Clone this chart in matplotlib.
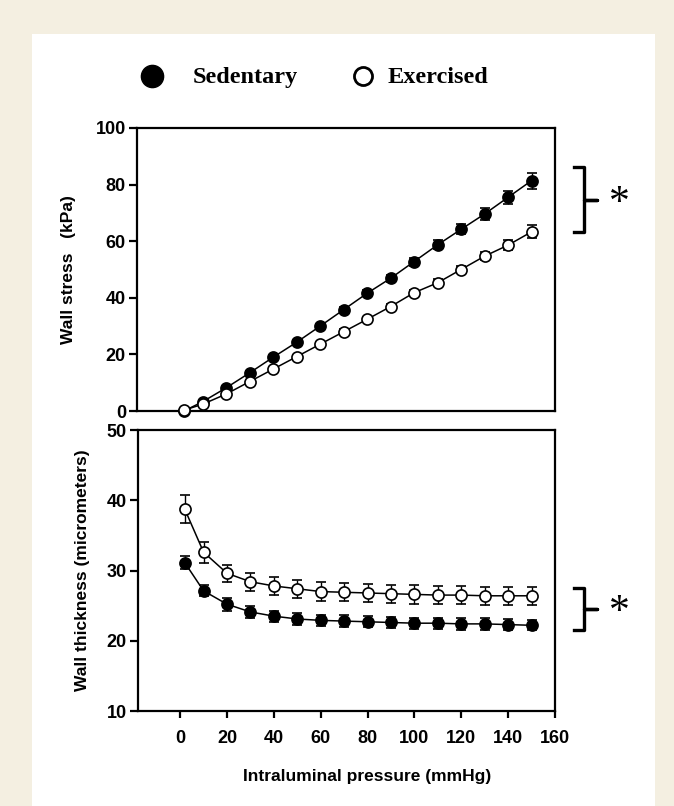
import matplotlib
matplotlib.use("Agg")
import matplotlib.pyplot as plt
from matplotlib.lines import Line2D
from matplotlib.patches import Rectangle

# pressure steps (mmHg)
pressure = [2, 10, 20, 30, 40, 50, 60, 70, 80, 90, 100, 110, 120, 130, 140, 150]

# wall stress (kPa)
stress_sed = [0.0, 3.3, 8.2, 13.5, 19.0, 24.3, 30.0, 35.8, 41.6, 46.9, 52.8, 58.7, 64.2, 69.6, 75.5, 81.4]
stress_sed_err = [0.3, 0.4, 0.5, 0.6, 0.7, 0.8, 0.9, 1.0, 1.1, 1.2, 1.4, 1.6, 1.8, 2.0, 2.4, 2.8]
stress_ex = [0.3, 2.4, 6.0, 10.4, 14.8, 19.2, 23.6, 28.0, 32.4, 36.9, 41.8, 45.3, 50.0, 54.7, 58.6, 63.3]
stress_ex_err = [0.3, 0.3, 0.4, 0.5, 0.6, 0.6, 0.7, 0.8, 0.9, 1.0, 1.1, 1.2, 1.3, 1.5, 1.7, 2.3]

# wall thickness (micrometers)
thick_sed = [31.1, 27.1, 25.2, 24.1, 23.5, 23.1, 22.9, 22.8, 22.7, 22.6, 22.5, 22.5, 22.4, 22.4, 22.3, 22.2]
thick_sed_err = [0.9, 0.8, 0.9, 0.8, 0.8, 0.8, 0.8, 0.8, 0.8, 0.8, 0.8, 0.8, 0.8, 0.8, 0.8, 0.7]
thick_ex = [38.7, 32.6, 29.6, 28.4, 27.8, 27.4, 27.0, 26.9, 26.8, 26.7, 26.6, 26.5, 26.5, 26.4, 26.4, 26.4]
thick_ex_err = [2.0, 1.5, 1.2, 1.3, 1.3, 1.3, 1.3, 1.3, 1.3, 1.3, 1.3, 1.3, 1.3, 1.3, 1.3, 1.3]

W, H = 674, 806
CREAM = "#f4efe1"
SANS = "Liberation Sans"
SERIF = "Liberation Serif"


def fx(px):
    return px / W


def fy(py):
    return 1 - py / H


fig = plt.figure(figsize=(W / 100, H / 100), dpi=100, facecolor=CREAM)
fig.patches.append(Rectangle((fx(32), 0), fx(655) - fx(32), fy(34), transform=fig.transFigure,
                             facecolor="white", edgecolor="none", zorder=-10))

ax_top = fig.add_axes([fx(137), fy(411), (555 - 137) / W, (411 - 128) / H])
ax_bot = fig.add_axes([fx(138), fy(711), (555 - 138) / W, (711 - 430) / H])


def draw_series(ax, y, err, filled):
    ax.errorbar(pressure, y, yerr=err, color="black", lw=1.1, elinewidth=1.0, capsize=3.5, capthick=1.0,
                marker="o", markersize=8, markerfacecolor="black" if filled else "white",
                markeredgecolor="black", markeredgewidth=1.2, clip_on=False, zorder=3 if filled else 4)


draw_series(ax_top, stress_sed, stress_sed_err, True)
draw_series(ax_top, stress_ex, stress_ex_err, False)
draw_series(ax_bot, thick_sed, thick_sed_err, True)
draw_series(ax_bot, thick_ex, thick_ex_err, False)

for ax in (ax_top, ax_bot):
    ax.set_xlim(-18, 160)
    ax.set_facecolor("none")
    for spine in ax.spines.values():
        spine.set_linewidth(1.6)
    ax.tick_params(axis="y", direction="out", length=6, width=1.6, pad=2, labelsize=13)

ax_top.set_ylim(0, 100)
ax_top.set_yticks([0, 20, 40, 60, 80, 100])
ax_top.tick_params(axis="x", bottom=False, labelbottom=False)

ax_bot.set_ylim(10, 50)
ax_bot.set_yticks([10, 20, 30, 40, 50])
ax_bot.set_xticks([0, 20, 40, 60, 80, 100, 120, 140, 160])
ax_bot.tick_params(axis="x", direction="out", length=5, width=1.6, pad=9, labelsize=13)

for ax in (ax_top, ax_bot):
    for lab in ax.get_xticklabels() + ax.get_yticklabels():
        lab.set_fontfamily(SANS)
        lab.set_fontweight("bold")

ax_top.set_ylabel("Wall stress   (kPa)", fontsize=12.5, fontweight="bold", family=SANS, va="center")
ax_top.yaxis.set_label_coords((68 - 137) / 418, 0.5)
ax_bot.set_ylabel("Wall thickness (micrometers)", fontsize=12.5, fontweight="bold", family=SANS, va="center")
ax_bot.yaxis.set_label_coords((82 - 138) / 417, 0.5)
fig.text(fx(367), fy(777), "Intraluminal pressure (mmHg)", ha="center", va="center",
         fontsize=12.5, fontweight="bold", family=SANS)

# legend
fig.add_artist(Line2D([fx(152)], [fy(76)], marker="o", markersize=16, color="black",
                      markerfacecolor="black", transform=fig.transFigure))
fig.add_artist(Line2D([fx(363)], [fy(76)], marker="o", markersize=13, color="black",
                      markerfacecolor="white", markeredgewidth=2, transform=fig.transFigure))
fig.text(fx(193), fy(83), "Sedentary", ha="left", va="baseline", fontsize=17.5,
         fontweight="bold", family=SERIF)
fig.text(fx(388), fy(83), "Exercised", ha="left", va="baseline", fontsize=17.5,
         fontweight="bold", family=SERIF)


def bracket(top, bottom, mid):
    xs = [fx(574), fx(584), fx(584), fx(597), fx(584), fx(584), fx(574)]
    ys = [fy(top), fy(top), fy(mid), fy(mid), fy(mid), fy(bottom), fy(bottom)]
    fig.add_artist(Line2D(xs, ys, color="black", lw=2.4, solid_joinstyle="round",
                          transform=fig.transFigure))
    fig.text(fx(619), fy(mid + 4), "*", ha="center", va="center", fontsize=30, family=SERIF)


bracket(167, 232, 200)
bracket(588, 630, 609)

fig.savefig("out.png", dpi=100, facecolor=CREAM)
